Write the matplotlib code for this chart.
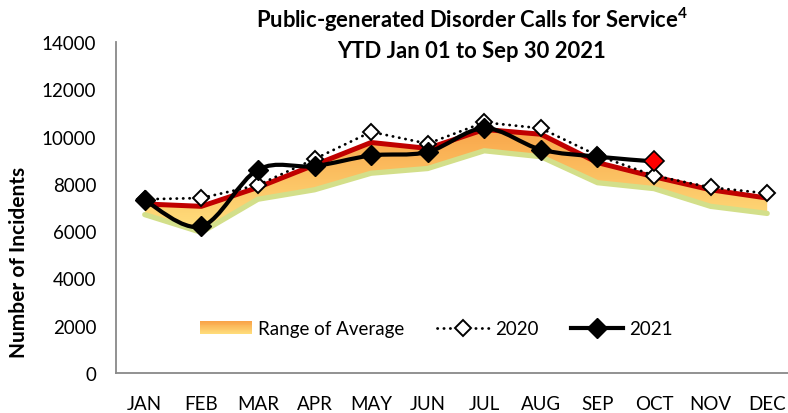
import numpy as np
import matplotlib
matplotlib.use("Agg")
import matplotlib.pyplot as plt
from matplotlib.path import Path
from matplotlib.patches import PathPatch, Rectangle
from matplotlib.lines import Line2D
from matplotlib.legend_handler import HandlerBase
from matplotlib.colors import LinearSegmentedColormap

plt.rcParams["font.family"] = ["Lato", "DejaVu Sans"]
plt.rcParams["mathtext.fontset"] = "custom"
plt.rcParams["mathtext.rm"] = "Lato"
plt.rcParams["mathtext.bf"] = "Lato:bold"

months = ["JAN", "FEB", "MAR", "APR", "MAY", "JUN",
          "JUL", "AUG", "SEP", "OCT", "NOV", "DEC"]
range_high = [7150, 7050, 7850, 8800, 9750, 9500, 10300, 10100, 8900, 8300, 7750, 7400]
range_low = [6700, 5950, 7350, 7750, 8450, 8650, 9400, 9150, 8050, 7800, 7050, 6750]
calls_2020 = [7350, 7400, 7950, 9050, 10200, 9700, 10600, 10350, 9200, 8350, 7850, 7600]
calls_2021 = [7300, 6200, 8600, 8750, 9200, 9350, 10350, 9450, 9150, 8950]

ORANGE = "#F9A449"
YELLOW = "#FFE07E"
grad = LinearSegmentedColormap.from_list("avg", [YELLOW, ORANGE])
FS = 13.5


def smooth_path(xs, ys):
    # excel-style smoothed line: bezier with catmull-rom control points
    pts = np.column_stack([xs, ys]).astype(float)
    padded = np.vstack([pts[0], pts, pts[-1]])
    verts = [pts[0]]
    codes = [Path.MOVETO]
    for i in range(len(pts) - 1):
        p0, p1, p2, p3 = padded[i], padded[i + 1], padded[i + 2], padded[i + 3]
        verts += [p1 + (p2 - p0) / 6, p2 - (p3 - p1) / 6, p2]
        codes += [Path.CURVE4] * 3
    return Path(verts, codes)


class GradientHandler(HandlerBase):
    def create_artists(self, legend, orig, xd, yd, w, h, fontsize, trans):
        n = 16
        arts = []
        for i in range(n):
            r = Rectangle((xd, yd + h * i / n), w, h / n * 1.05,
                          facecolor=grad(i / (n - 1)), lw=0, transform=trans)
            arts.append(r)
        return arts


fig = plt.figure(figsize=(7.88, 4.14), dpi=100)
ax = fig.add_axes([0.1478, 0.0966, 0.8617, 0.7995])

x = np.arange(len(months))

# range of average: gradient fill clipped to band
band = ax.fill_between(x, range_low, range_high, color="none", lw=0)
img = ax.imshow(np.linspace(0, 1, 256).reshape(-1, 1), cmap=grad, origin="lower",
                extent=[x[0], x[-1], 6000, 10400], aspect="auto", zorder=1)
img.set_clip_path(band.get_paths()[0], transform=ax.transData)

ax.plot(x, range_low, color="#D3DF8A", lw=3.8, solid_capstyle="round", zorder=2)
ax.plot(x, range_high, color="#C00000", lw=3.6, solid_capstyle="round", zorder=2)

ax.plot(x, calls_2020, color="black", lw=2.0, linestyle=(0, (0.1, 2.2)),
        dash_capstyle="round", marker="D", markersize=8.5,
        markerfacecolor="white", markeredgecolor="black", markeredgewidth=1.4, zorder=3)

x21 = x[:len(calls_2021)]
ax.add_patch(PathPatch(smooth_path(x21, calls_2021), facecolor="none",
                       edgecolor="black", lw=3.0, zorder=4))
ax.plot(x21[:-1], calls_2021[:-1], linestyle="none", marker="D", markersize=10.5,
        color="black", zorder=5)
ax.plot(x21[-1:], calls_2021[-1:], linestyle="none", marker="D", markersize=10.5,
        markerfacecolor="#FF0000", markeredgecolor="black", markeredgewidth=1.2, zorder=5)

ax.set_xlim(-0.5, 11.5)
ax.set_ylim(0, 14000)
ax.set_yticks(np.arange(0, 14001, 2000))
ax.set_xticks(x)
ax.set_xticklabels(months)
ax.tick_params(length=0, labelsize=FS, colors="black")
ax.tick_params(axis="y", pad=14.5)
ax.tick_params(axis="x", pad=15.5)
for side in ["top", "right"]:
    ax.spines[side].set_visible(False)
for side in ["left", "bottom"]:
    ax.spines[side].set_color("#898989")
    ax.spines[side].set_linewidth(1.3)

fig.text(0.024, 0.367, "Number of Incidents", rotation=90, ha="center", va="center",
         fontsize=15, fontweight="bold")
fig.text(0.599, 0.932, r"Public-generated Disorder Calls for Service$^{\mathbf{4}}$",
         ha="center", va="baseline", fontsize=15.8, fontweight="bold")
fig.text(0.599, 0.860, "YTD Jan 01 to Sep 30 2021",
         ha="center", va="baseline", fontsize=15.8, fontweight="bold")

h_range = Rectangle((0, 0), 1, 1)
h_2020 = Line2D([], [], color="black", lw=2.0, linestyle=(0, (0.1, 2.2)),
                dash_capstyle="round", marker="D", markersize=8.5,
                markerfacecolor="white", markeredgecolor="black", markeredgewidth=1.4)
h_2021 = Line2D([], [], color="black", lw=3.0, marker="D", markersize=10)
ax.legend([h_range, h_2020, h_2021], ["Range of Average", "2020", "2021"],
          handler_map={Rectangle: GradientHandler()}, ncol=3, frameon=False,
          loc="center", bbox_to_anchor=(0.471, 0.133), fontsize=FS,
          handlelength=2.8, handletextpad=0.33, columnspacing=1.7, numpoints=1)

fig.savefig("out.png", dpi=100)
